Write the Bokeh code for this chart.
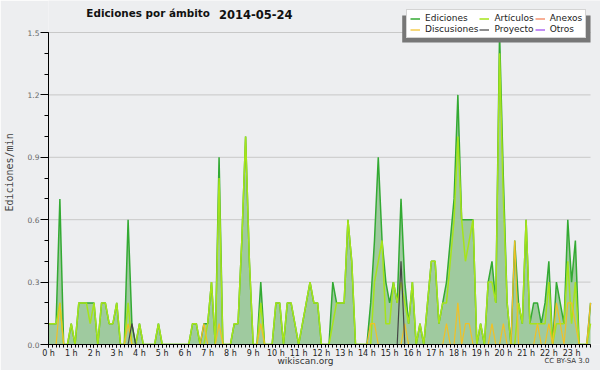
from bokeh.plotting import figure
from bokeh.models import (Range1d, FixedTicker, Legend, LegendItem, Label, Title,
                          ColumnDataSource, NumeralTickFormatter, BoxAnnotation)
from bokeh.embed import file_html
from bokeh.resources import INLINE

# ---------------- data (10-minute bins, edits per minute) ----------------
hour_labels = ["0 h", "1 h", "2 h", "3 h", "4 h", "5 h", "6 h", "7 h", "8 h", "9 h",
               "10 h", "11 h", "12 h", "13 h", "14 h", "15 h", "16 h", "17 h", "18 h",
               "19 h", "20 h", "21 h", "22 h", "23 h"]
bins = list(range(144))

ediciones = [
    0.1, 0.1, 0.1, 0.7, 0, 0, 0.1, 0, 0.2, 0.2, 0.2, 0.2,
    0.2, 0, 0.2, 0.2, 0.1, 0.1, 0.2, 0, 0, 0.6, 0.1, 0,
    0.1, 0, 0, 0, 0, 0.1, 0, 0, 0, 0, 0, 0,
    0, 0, 0.1, 0.1, 0, 0.1, 0.1, 0.3, 0, 0.9, 0, 0,
    0, 0.1, 0.1, 0.5, 1.0, 0.4, 0, 0, 0.3, 0, 0, 0,
    0.2, 0.2, 0, 0.2, 0.2, 0.1, 0, 0.1, 0.2, 0.3, 0.2, 0.2,
    0, 0, 0, 0.3, 0.2, 0.2, 0.2, 0.6, 0.4, 0, 0, 0,
    0, 0.2, 0.5, 0.9, 0.5, 0.3, 0.2, 0.3, 0.2, 0.7, 0.3, 0.1,
    0.3, 0, 0.1, 0, 0.2, 0.4, 0.4, 0.1, 0.2, 0.3, 0.5, 0.7,
    1.2, 0.6, 0.6, 0.6, 0.6, 0, 0.1, 0, 0.3, 0.4, 0.2, 1.5,
    0.8, 0.2, 0, 0.5, 0.2, 0.1, 0.6, 0.1, 0.2, 0.2, 0.1, 0.2,
    0.4, 0, 0.3, 0.2, 0.1, 0.6, 0.3, 0.5, 0, 0, 0, 0.2,
]
articulos = [
    0.1, 0.1, 0.1, 0.2, 0, 0, 0.1, 0, 0.2, 0.2, 0.2, 0.1,
    0.2, 0, 0.2, 0.2, 0.1, 0.1, 0.2, 0, 0, 0.2, 0, 0,
    0.1, 0, 0, 0, 0, 0.1, 0, 0, 0, 0, 0, 0,
    0, 0, 0.1, 0.1, 0, 0, 0.1, 0.3, 0, 0.8, 0, 0,
    0, 0.1, 0.1, 0.5, 1.0, 0.4, 0, 0, 0.2, 0, 0, 0,
    0.2, 0.2, 0, 0.2, 0.2, 0.1, 0, 0.1, 0.2, 0.3, 0.2, 0.2,
    0, 0, 0, 0.1, 0.2, 0.2, 0.2, 0.6, 0.4, 0, 0, 0,
    0, 0, 0.3, 0.4, 0.5, 0.1, 0.1, 0.3, 0.2, 0.3, 0.2, 0.1,
    0.3, 0, 0.1, 0, 0.2, 0.4, 0.4, 0.1, 0.2, 0.2, 0.4, 0.6,
    1.0, 0.6, 0.4, 0.5, 0.6, 0, 0.1, 0, 0.3, 0.3, 0.2, 1.4,
    0.7, 0.2, 0, 0, 0.2, 0.1, 0.6, 0.1, 0.1, 0.1, 0.1, 0.1,
    0.3, 0, 0.1, 0.1, 0.1, 0.4, 0.1, 0.3, 0, 0, 0, 0.1,
]
discusiones = [
    0, 0, 0, 0.2, 0, 0, 0, 0, 0, 0, 0, 0,
    0, 0, 0, 0, 0, 0, 0, 0, 0, 0.1, 0, 0,
    0, 0, 0, 0, 0, 0, 0, 0, 0, 0, 0, 0,
    0, 0, 0, 0, 0, 0.1, 0, 0, 0, 0.1, 0, 0,
    0, 0, 0, 0, 0, 0, 0, 0, 0.1, 0, 0, 0,
    0, 0, 0, 0, 0, 0, 0, 0, 0, 0, 0, 0,
    0, 0, 0, 0, 0, 0, 0, 0, 0, 0, 0, 0,
    0, 0.1, 0.1, 0, 0, 0, 0, 0, 0, 0, 0.1, 0,
    0, 0, 0, 0, 0, 0, 0, 0, 0, 0.1, 0, 0,
    0.2, 0, 0.1, 0.1, 0, 0, 0, 0, 0, 0.1, 0, 0,
    0.1, 0, 0, 0.5, 0, 0, 0, 0, 0, 0.1, 0, 0,
    0.1, 0, 0.2, 0.1, 0, 0.2, 0.2, 0.1, 0, 0, 0, 0.2,
]
proyecto = [
    0, 0, 0, 0, 0, 0, 0, 0, 0, 0, 0, 0,
    0, 0, 0, 0, 0, 0, 0, 0, 0, 0, 0.1, 0,
    0, 0, 0, 0, 0, 0, 0, 0, 0, 0, 0, 0,
    0, 0, 0, 0, 0, 0, 0, 0, 0, 0, 0, 0,
    0, 0, 0, 0, 0, 0, 0, 0, 0, 0, 0, 0,
    0, 0, 0, 0, 0, 0, 0, 0, 0, 0, 0, 0,
    0, 0, 0, 0, 0, 0, 0, 0, 0, 0, 0, 0,
    0, 0, 0, 0, 0, 0, 0, 0, 0, 0.4, 0, 0,
    0, 0, 0, 0, 0, 0, 0, 0, 0, 0, 0, 0,
    0, 0, 0, 0, 0, 0, 0, 0, 0, 0, 0, 0,
    0, 0, 0, 0, 0, 0, 0, 0, 0, 0, 0, 0,
    0, 0, 0, 0, 0, 0, 0, 0, 0, 0, 0, 0,
]
anexos = [0] * 144
otros = [0] * 144

y_ticks = [0.0, 0.3, 0.6, 0.9, 1.2, 1.5]
y_minor = [0.0, 0.1, 0.2, 0.3, 0.4, 0.5, 0.6, 0.7, 0.8, 0.9, 1.0, 1.1, 1.2, 1.3, 1.4, 1.5]

# ---------------- layout (pixels) ----------------
W, H = 600, 370
LEFT, BOTTOM = 46, 26            # frame reaches the top/right edge of the figure
PLOT_W = 544                     # pixels covered by bins 0..143
PLOT_H = 312                     # pixels covered by 0..1.5
FRAME_W, FRAME_H = W - LEFT, H - BOTTOM
x_last, y_top = bins[-1], y_ticks[-1]
x_end = x_last * FRAME_W / PLOT_W
y_end = y_top * FRAME_H / PLOT_H
def dx(px):   # pixel column of the picture -> data x
    return (px - LEFT) * x_last / PLOT_W
def dy(py):   # pixel row of the picture -> data y
    return (FRAME_H - py) * y_top / PLOT_H

# ---------------- styles ----------------
BG = "#edeef0"
ED_FILL = "#9fca9f"
ED_LINE = "#33aa33"
ART = "#a6e41a"
DISC = "#f2c025"
PROY = "#444444"
ANEX = "#f47a50"
OTROS = "#9944ee"
FONT = "DejaVu Sans"
MONO = "DejaVu Sans Mono"

src = ColumnDataSource(dict(x=bins, ed=ediciones, art=articulos, disc=discusiones,
                            proy=proyecto, anex=anexos, otros=otros))

p = figure(width=W, height=H, output_backend="svg", toolbar_location=None,
           x_range=Range1d(0, x_end), y_range=Range1d(0, y_end),
           min_border_left=LEFT, min_border_right=0, min_border_top=0,
           min_border_bottom=BOTTOM,
           background_fill_color=BG, border_fill_color=BG, outline_line_color=None)

# axes
p.xaxis.bounds = (0, x_last)
p.xaxis.ticker = FixedTicker(ticks=[i * 6 for i in range(24)], minor_ticks=bins)
p.xaxis.major_label_overrides = {i * 6: lab for i, lab in enumerate(hour_labels)}
p.xaxis.major_tick_out = 3
p.xaxis.major_tick_in = 0
p.xaxis.minor_tick_out = 3
p.xaxis.minor_tick_in = 0
p.xaxis.major_label_standoff = 1
p.xaxis.major_label_text_font = FONT
p.xaxis.major_label_text_font_size = "8px"
p.xaxis.major_label_text_color = "#222222"
p.xaxis.axis_line_color = "black"

p.yaxis.bounds = (0, y_top)
p.yaxis.ticker = FixedTicker(ticks=y_ticks, minor_ticks=y_minor)
p.yaxis.formatter = NumeralTickFormatter(format="0.0")
p.yaxis.major_tick_out = 8
p.yaxis.major_tick_in = 0
p.yaxis.minor_tick_out = 4
p.yaxis.minor_tick_in = 0
p.yaxis.major_label_standoff = 1
p.yaxis.major_label_text_font = FONT
p.yaxis.major_label_text_font_size = "7.5px"
p.yaxis.major_label_text_color = "#666666"
p.yaxis.axis_label = "Ediciones/min"
p.yaxis.axis_label_text_font = MONO
p.yaxis.axis_label_text_font_size = "10px"
p.yaxis.axis_label_text_font_style = "normal"
p.yaxis.axis_label_standoff = 10
p.yaxis.axis_line_color = "black"

p.xgrid.grid_line_color = None
p.ygrid.grid_line_color = None
# horizontal grid lines limited to the plotted span
p.segment(x0=bins[0], x1=x_last, y0=y_ticks[1:], y1=y_ticks[1:],
          line_color="#c8c8c8", line_width=1, level="underlay")

# glyphs
p.varea(x="x", y1=0, y2="ed", source=src, fill_color=ED_FILL)
r_ed = p.line("x", "ed", source=src, line_color=ED_LINE, line_width=1.5)
r_art = p.line("x", "art", source=src, line_color=ART, line_width=1.5)
r_anex = p.line("x", "anex", source=src, line_color=ANEX, line_width=1.2)
r_otros = p.line("x", "otros", source=src, line_color=OTROS, line_width=1.2)
r_disc = p.line("x", "disc", source=src, line_color=DISC, line_width=1.2)
r_proy = p.line("x", "proy", source=src, line_color=PROY, line_width=1.2)

# legend with a drop shadow
p.add_layout(BoxAnnotation(left=dx(401), right=dx(590), top=dy(15), bottom=dy(42),
                           fill_color="#777777", fill_alpha=1, line_color=None))
items = [
    LegendItem(label="Ediciones", renderers=[r_ed]),
    LegendItem(label="Discusiones", renderers=[r_disc]),
    LegendItem(label="Artículos", renderers=[r_art]),
    LegendItem(label="Proyecto", renderers=[r_proy]),
    LegendItem(label="Anexos", renderers=[r_anex]),
    LegendItem(label="Otros", renderers=[r_otros]),
]
legend = Legend(items=items, location=(404 - LEFT, FRAME_H - 38), ncols=3,
                orientation="vertical",
                label_text_font=FONT, label_text_font_size="9px", label_text_color="#222222",
                label_height=9, glyph_height=9, glyph_width=10, label_standoff=5,
                spacing=1, padding=3, margin=0,
                background_fill_color="white", background_fill_alpha=1,
                border_line_color="#aaaaaa")
p.add_layout(legend, "center")

# title (inside the frame, above the 1.5 line)
p.add_layout(Label(x=dx(84), y=dy(18.5), text="Ediciones por ámbito", text_font=FONT,
                   text_font_size="10.4px", text_font_style="bold", text_color="#111111"))
p.add_layout(Label(x=dx(217), y=dy(18.5), text="2014-05-24", text_font=FONT,
                   text_font_size="11.5px", text_font_style="bold", text_color="#111111"))

# footer texts below the x axis
p.add_layout(Title(text="CC BY-SA 3.0", align="right", offset=11, vertical_align="bottom",
                   standoff=-9.8, text_font=FONT, text_font_size="7px",
                   text_font_style="normal", text_color="#333333"), "below")
p.add_layout(Title(text="wikiscan.org", align="left", offset=275 - LEFT, vertical_align="top",
                   standoff=-9, text_font=FONT, text_font_size="9px",
                   text_font_style="normal", text_color="#333333"), "below")

open("out.html", "w").write(file_html(p, INLINE))
